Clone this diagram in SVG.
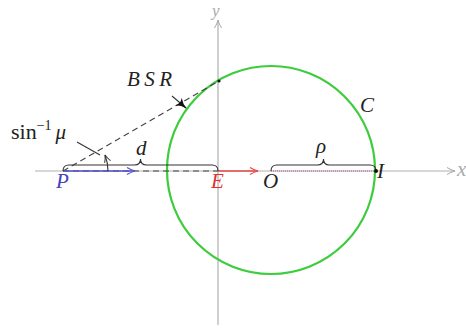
<svg xmlns="http://www.w3.org/2000/svg" width="466" height="330" viewBox="0 0 466 330">
<defs>
<marker id="chev" viewBox="0 0 10 10" refX="9" refY="5" markerWidth="10" markerHeight="10" markerUnits="userSpaceOnUse" orient="auto">
<path d="M1,1.5 Q5,4 9,5 Q5,6 1,8.5" fill="none" stroke="#aaa" stroke-width="1"/>
</marker>
<marker id="blueArr" viewBox="0 0 10 10" refX="9" refY="5" markerWidth="10" markerHeight="10" markerUnits="userSpaceOnUse" orient="auto">
<path d="M1,1.5 Q5,4 9,5 Q5,6 1,8.5" fill="none" stroke="#5555cc" stroke-width="1.2"/>
</marker>
<marker id="redArr" viewBox="0 0 10 10" refX="9" refY="5" markerWidth="10" markerHeight="10" markerUnits="userSpaceOnUse" orient="auto">
<path d="M1,1.5 Q5,4 9,5 Q5,6 1,8.5" fill="none" stroke="#e84848" stroke-width="1.2"/>
</marker>
<marker id="darkArr" viewBox="0 0 10 10" refX="9" refY="5" markerWidth="9" markerHeight="9" markerUnits="userSpaceOnUse" orient="auto">
<path d="M1,1.5 Q5,4 9,5 Q5,6 1,8.5" fill="none" stroke="#333" stroke-width="1.1"/>
</marker>
<marker id="blackHead" viewBox="0 0 10 10" refX="9" refY="5" markerWidth="11" markerHeight="11" markerUnits="userSpaceOnUse" orient="auto">
<path d="M0,0.5 Q4,4 10,5 Q4,6 0,9.5 Q3,5 0,0.5 Z" fill="#111"/>
</marker>
</defs>
<style>
.axis{stroke:#b0b0b0;stroke-width:1.2;fill:none}
.math{font-family:"Liberation Serif","DejaVu Serif",serif;font-style:italic;font-size:21px;fill:#222}
.rm{font-family:"Liberation Serif","DejaVu Serif",serif;font-size:22px;fill:#222}
.brace{stroke:#333;stroke-width:1.1;fill:none}
.dash{stroke:#444;stroke-width:1.1;stroke-dasharray:6,4;fill:none}
</style>
<rect width="466" height="330" fill="#fff"/>
<g id="axes">
<line class="axis" x1="35" y1="171" x2="455" y2="171" marker-end="url(#chev)"/>
<line class="axis" x1="218" y1="325" x2="218" y2="20" marker-end="url(#chev)"/>
<text class="math" x="457" y="176" style="fill:#aaa">x</text>
<text class="math" x="212" y="16" style="fill:#aaa;font-size:17px">y</text>
</g>
<g id="circle-C">
<circle cx="271" cy="170" r="104" fill="none" stroke="#3ccc3c" stroke-width="2.2"/>
<text class="math" x="360" y="112">C</text>
</g>
<g id="connectors">
<line class="dash" x1="63" y1="171" x2="219" y2="81"/>
<line class="dash" x1="63" y1="171" x2="218" y2="171"/>
<line x1="63" y1="171" x2="135" y2="171" stroke="#5555cc" stroke-width="1.4" marker-end="url(#blueArr)"/>
<line x1="218" y1="171" x2="258" y2="171" stroke="#e84848" stroke-width="1.4" marker-end="url(#redArr)"/>
<line x1="271" y1="171" x2="376" y2="171" stroke="#c080b0" stroke-width="1.4" stroke-dasharray="1,1"/>
<path class="brace" d="M63,171 q0,-6 6,-6 L134.5,165 q6,0 6,-6 q0,6 6,6 L212,165 q6,0 6,6"/>
<path class="brace" d="M271,171 q0,-6 6,-6 L317.5,165 q6,0 6,-6 q0,6 6,6 L370,165 q6,0 6,6"/>
<path d="M108,171 A45,45 0 0 0 105,155" fill="none" stroke="#333" stroke-width="1.1" marker-end="url(#darkArr)"/>
<line x1="77" y1="142" x2="100" y2="155" stroke="#333" stroke-width="1.1"/>
<line x1="172" y1="96" x2="186" y2="108" stroke="#333" stroke-width="1.1" marker-end="url(#blackHead)"/>
<circle cx="219" cy="81" r="1.6" fill="#111"/>
<circle cx="376" cy="171" r="2" fill="#111"/>
</g>
<g id="labels">
<text class="math" x="56" y="188" style="fill:#4444bb">P</text>
<text class="math" x="211" y="188" style="fill:#e03030">E</text>
<text class="math" x="263" y="188">O</text>
<text class="math" x="377" y="178">I</text>
<text class="math" x="136" y="155">d</text>
<text class="math" x="316" y="153">ρ</text>
<text class="math" x="127" y="86" textLength="45" lengthAdjust="spacing">BSR</text>
<text class="rm" x="11" y="139">sin<tspan font-size="14" dy="-9">−1</tspan><tspan class="math" dy="9" dx="4">μ</tspan></text>
</g>
</svg>
